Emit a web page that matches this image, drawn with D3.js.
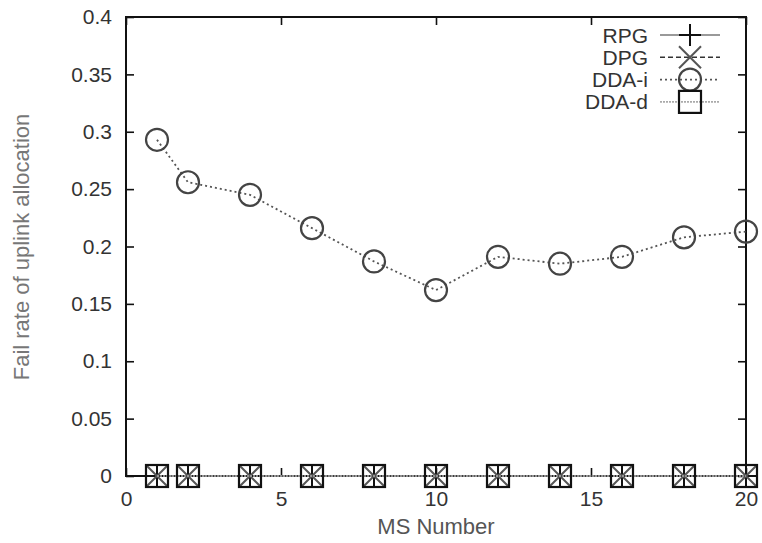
<!DOCTYPE html>
<html><head><meta charset="utf-8">
<script src="https://cdn.jsdelivr.net/npm/d3@7"></script>
<style>body{margin:0;background:#fff}text{font-family:"Liberation Sans",Arial,sans-serif}</style>
</head><body><svg id="c" width="762" height="543"></svg>
<script>
const msNumbers = [1, 2, 4, 6, 8, 10, 12, 14, 16, 18, 20];
const rpgValues = [0, 0, 0, 0, 0, 0, 0, 0, 0, 0, 0];
const dpgValues = [0, 0, 0, 0, 0, 0, 0, 0, 0, 0, 0];
const ddaIValues = [0.293, 0.256, 0.245, 0.216, 0.187, 0.162, 0.191, 0.185, 0.191, 0.208, 0.213];
const ddaDValues = [0, 0, 0, 0, 0, 0, 0, 0, 0, 0, 0];
const xTicks = [0, 5, 10, 15, 20];
const yTicks = [0, 0.05, 0.1, 0.15, 0.2, 0.25, 0.3, 0.35, 0.4];
const seriesNames = ["RPG", "DPG", "DDA-i", "DDA-d"];

const svg = d3.select("#c");
const m = {l: 126, r: 16, t: 17, b: 67};
const W = 762, H = 543;
const x = d3.scaleLinear().domain([0, 20]).range([m.l, W - m.r]);
const y = d3.scaleLinear().domain([0, 0.4]).range([H - m.b, m.t]);
const tk = 8;

// axes (ticks inside, mirrored)
const fmtY = d => d === 0 ? "0" : String(+d.toFixed(2));
svg.append("g").attr("transform", `translate(${m.l},0)`)
  .call(d3.axisLeft(y).tickValues(yTicks).tickSizeInner(-tk).tickSizeOuter(0).tickPadding(14).tickFormat(fmtY));
svg.append("g").attr("transform", `translate(${W - m.r},0)`)
  .call(d3.axisRight(y).tickValues(yTicks).tickSizeInner(-tk).tickSizeOuter(0).tickFormat(""));
svg.append("g").attr("transform", `translate(0,${H - m.b})`)
  .call(d3.axisBottom(x).tickValues(xTicks).tickSizeInner(-tk).tickSizeOuter(0).tickPadding(15).tickFormat(d3.format("d")));
svg.append("g").attr("transform", `translate(0,${m.t})`)
  .call(d3.axisTop(x).tickValues(xTicks).tickSizeInner(-tk).tickSizeOuter(0).tickFormat(""));
svg.selectAll(".domain").remove();
svg.selectAll(".tick line").attr("stroke", "#111").attr("stroke-width", 1.6);
svg.selectAll(".tick text").attr("font-size", 21).attr("fill", "#333")
  .attr("font-family", "Liberation Sans, Arial, sans-serif");

svg.append("rect").attr("x", m.l).attr("y", m.t).attr("width", W - m.l - m.r).attr("height", H - m.t - m.b)
  .attr("fill", "none").attr("stroke", "#111").attr("stroke-width", 2);

// labels
svg.append("text").attr("x", x(10)).attr("y", 534).attr("text-anchor", "middle")
  .attr("font-size", 22).attr("fill", "#555").text("MS Number");
svg.append("text").attr("transform", `translate(29,247) rotate(-90)`)
  .attr("text-anchor", "middle").attr("font-size", 22).attr("fill", "#777").text("Fail rate of uplink allocation");

const styles = {
  "RPG": {dash: null, color: "#777", w: 1.6},
  "DPG": {dash: "5,3", color: "#333", w: 1.6},
  "DDA-i": {dash: "2,3", color: "#555", w: 1.8},
  "DDA-d": {dash: "2,1", color: "#aaa", w: 1.6}
};
const seriesData = {"RPG": rpgValues, "DPG": dpgValues, "DDA-i": ddaIValues, "DDA-d": ddaDValues};

function marker(g, name, cx, cy) {
  const s = 11;
  if (name === "RPG") {
    g.append("path").attr("d", `M${cx - s},${cy}H${cx + s}M${cx},${cy - s}V${cy + s}`)
      .attr("stroke", "#111").attr("stroke-width", 2).attr("fill", "none");
  } else if (name === "DPG") {
    g.append("path").attr("d", `M${cx - s},${cy - s}L${cx + s},${cy + s}M${cx - s},${cy + s}L${cx + s},${cy - s}`)
      .attr("stroke", "#555").attr("stroke-width", 2).attr("fill", "none");
  } else if (name === "DDA-i") {
    g.append("circle").attr("cx", cx).attr("cy", cy).attr("r", s)
      .attr("stroke", "#444").attr("stroke-width", 2.2).attr("fill", "none");
  } else {
    g.append("rect").attr("x", cx - s).attr("y", cy - s).attr("width", 2 * s).attr("height", 2 * s)
      .attr("stroke", "#111").attr("stroke-width", 2.2).attr("fill", "none");
  }
}

const line = d3.line().x(d => x(d[0])).y(d => y(d[1]));
seriesNames.forEach(name => {
  const st = styles[name];
  const pts = msNumbers.map((v, i) => [v, seriesData[name][i]]);
  const g = svg.append("g");
  g.append("path").datum(pts).attr("d", line).attr("fill", "none")
    .attr("stroke", st.color).attr("stroke-width", st.w).attr("stroke-dasharray", st.dash);
  pts.forEach(p => marker(g, name, x(p[0]), y(p[1])));
});

// legend
const ly0 = 35, lstep = 22.3;
seriesNames.forEach((name, i) => {
  const st = styles[name];
  const yy = ly0 + i * lstep;
  const g = svg.append("g");
  g.append("text").attr("x", 648).attr("y", yy + 7.5).attr("text-anchor", "end")
    .attr("font-size", 21).attr("fill", "#333").text(name);
  g.append("line").attr("x1", 660).attr("x2", 720).attr("y1", yy).attr("y2", yy)
    .attr("stroke", st.color).attr("stroke-width", st.w).attr("stroke-dasharray", st.dash);
  marker(g, name, 690, yy);
});
</script></body></html>
